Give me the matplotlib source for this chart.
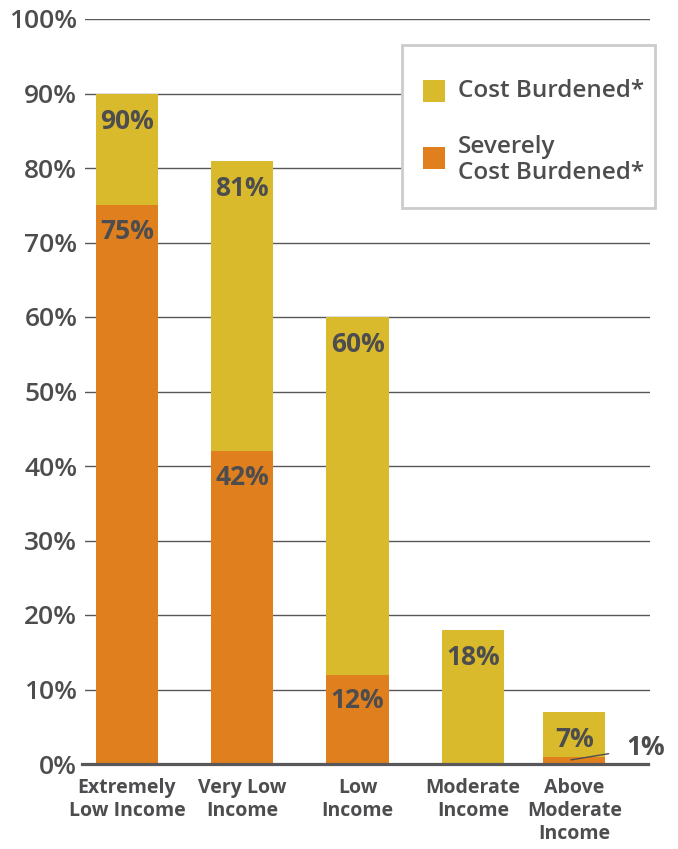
import matplotlib
matplotlib.use("Agg")
import matplotlib.pyplot as plt
from matplotlib.patches import Rectangle

categories = ["Extremely\nLow Income", "Very Low\nIncome", "Low\nIncome", "Moderate\nIncome", "Above\nModerate\nIncome"]
cost_burdened = [90, 81, 60, 18, 7]
severely_burdened = [75, 42, 12, 0, 1]
positions = [0, 1, 2, 3, 3.88]
yticks = [0, 10, 20, 30, 40, 50, 60, 70, 80, 90, 100]
legend_labels = ["Cost Burdened*", "Severely\nCost Burdened*"]

YELLOW = "#D9BA2C"
ORANGE = "#E07F1E"
TEXT = "#4D4D4F"
FONT = ["Open Sans", "DejaVu Sans"]
plt.rcParams["font.family"] = FONT

W, H = 678, 849
fig = plt.figure(figsize=(W/100, H/100), dpi=100)
ax = fig.add_axes([85/W, (H-764)/H, (650-85)/W, (764-19)/H])

w = 0.54
ax.bar(positions, cost_burdened, width=w, color=YELLOW, zorder=3)
ax.bar(positions, severely_burdened, width=w, color=ORANGE, zorder=3)

ax.set_ylim(0, 100)
ax.set_xlim(-0.364, 4.536)
ax.set_yticks(yticks)
ax.set_yticklabels([f"{v}%" for v in yticks], fontsize=19, color=TEXT, fontweight="semibold")
ax.set_xticks(positions)
ax.set_xticklabels(categories, fontsize=14, color=TEXT, fontweight="bold", linespacing=1.22, va="top")
ax.tick_params(axis="y", length=0, pad=5.5)
ax.tick_params(axis="x", length=0, pad=10)
ax.grid(axis="y", color="#58585A", linewidth=1.0, zorder=0)
for s in ["left", "right", "top"]:
    ax.spines[s].set_visible(False)
ax.spines["bottom"].set_color("#58585A")
ax.spines["bottom"].set_linewidth(2.3)
ax.spines["bottom"].set_zorder(4)
ax.spines["bottom"].set_bounds(-0.39, 4.52)
ax.spines["bottom"].set_clip_on(False)

# value labels
for x, c, s in zip(positions, cost_burdened, severely_burdened):
    ax.annotate(f"{c}%", (x, c), xytext=(0, -20), textcoords="offset points",
                ha="center", va="center", fontsize=19, fontweight="bold", color=TEXT, zorder=5)
    if s >= 5:
        ax.annotate(f"{s}%", (x, s), xytext=(0, -19), textcoords="offset points",
                    ha="center", va="center", fontsize=19, fontweight="bold", color=TEXT, zorder=5)
    elif s > 0:
        ax.annotate(f"{s}%", xy=(x - 0.03, s * 0.55), xytext=(x + 0.62, s + 1.2),
                    ha="center", va="center", fontsize=19, fontweight="bold", color=TEXT, zorder=5,
                    arrowprops=dict(arrowstyle="-", color=TEXT, lw=1.0, shrinkA=11, shrinkB=0))

# legend (drawn in figure pixel coordinates)
def fx(px):
    return px / W

def fy(py):
    return 1 - py / H

fig.patches.append(Rectangle((fx(402), fy(208)), fx(655) - fx(402), fy(45) - fy(208),
                             transform=fig.transFigure, facecolor="white",
                             edgecolor="#CCCCCC", linewidth=2, zorder=10))
for (sq_top, txt_y), col, lab in zip([(80, 91), (147, 160)], [YELLOW, ORANGE], legend_labels):
    fig.patches.append(Rectangle((fx(423), fy(sq_top + 22)), fx(445) - fx(423), fy(sq_top) - fy(sq_top + 22),
                                 transform=fig.transFigure, facecolor=col, edgecolor="none", zorder=11))
    fig.text(fx(458), fy(txt_y), lab, ha="left", va="center", fontsize=17.5, fontweight="semibold",
             color=TEXT, linespacing=1.1, zorder=12)

fig.savefig("out.png", dpi=100)
